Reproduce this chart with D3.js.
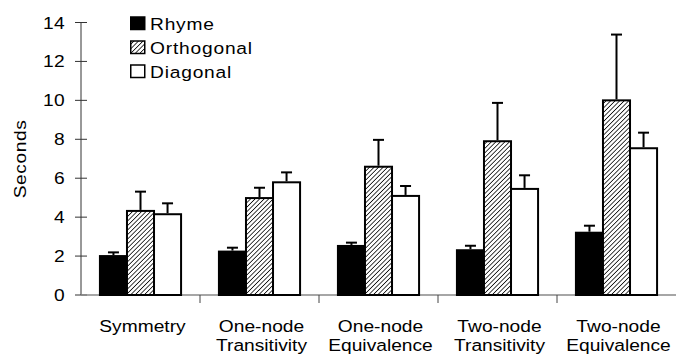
<!DOCTYPE html>
<html>
<head>
<meta charset="utf-8">
<script src="https://cdn.jsdelivr.net/npm/d3@7"></script>
<style>
  html, body { margin: 0; padding: 0; background: #fff; }
  svg { display: block; }
  text { font-family: "Liberation Sans", Arial, Helvetica, sans-serif; fill: #000; font-size: 17px; }
</style>
</head>
<body>
<svg id="chart" width="676" height="356"></svg>
<script>
const categories = [
  ["Symmetry"],
  ["One-node", "Transitivity"],
  ["One-node", "Equivalence"],
  ["Two-node", "Transitivity"],
  ["Two-node", "Equivalence"]
];
const seriesNames = ["Rhyme", "Orthogonal", "Diagonal"];
const rhymeMeans      = [2.00, 2.23, 2.52, 2.30, 3.20];
const rhymeErrTops    = [2.19, 2.43, 2.69, 2.53, 3.56];
const orthogonalMeans = [4.32, 4.98, 6.59, 7.90, 10.00];
const orthogonalErrTops = [5.31, 5.51, 7.97, 9.87, 13.38];
const diagonalMeans   = [4.15, 5.79, 5.09, 5.45, 7.54];
const diagonalErrTops = [4.71, 6.30, 5.60, 6.15, 8.34];
const yTicks = [0, 2, 4, 6, 8, 10, 12, 14];
const yLabel = "Seconds";

const means = [rhymeMeans, orthogonalMeans, diagonalMeans];
const errTops = [rhymeErrTops, orthogonalErrTops, diagonalErrTops];
const SX = 1.13;

const svg = d3.select("#chart");
const defs = svg.append("defs");
const pat = defs.append("pattern")
  .attr("id", "hatch")
  .attr("patternUnits", "userSpaceOnUse")
  .attr("width", 3.2).attr("height", 3.2)
  .attr("patternTransform", "rotate(45)");
pat.append("rect").attr("width", 3.2).attr("height", 3.2).attr("fill", "#fff");
pat.append("line").attr("x1", 0).attr("y1", 0).attr("x2", 0).attr("y2", 3.2)
  .attr("stroke", "#000").attr("stroke-width", 1.5);

const fills = ["#000", "url(#hatch)", "#fff"];

const catKeys = categories.map(c => c.join(" "));
const x0 = d3.scaleBand().domain(catKeys).range([81, 676]).paddingInner(0).paddingOuter(0);
const x1 = d3.scaleBand().domain(seriesNames).range([0, x0.bandwidth()]).paddingInner(0).paddingOuter(0.7);
const y = d3.scaleLinear().domain([0, 14]).range([295, 22.5]);

// Y axis
const yAxisG = svg.append("g").attr("transform", "translate(81,0)");
yAxisG.append("line").attr("x1", 0).attr("x2", 0).attr("y1", y(14)).attr("y2", y(0))
  .attr("stroke", "#333").attr("stroke-width", 1);
yAxisG.selectAll("line.tick").data(yTicks).join("line").attr("class", "tick")
  .attr("x1", -6).attr("x2", 6).attr("y1", d => y(d)).attr("y2", d => y(d))
  .attr("stroke", "#333").attr("stroke-width", 1);
yAxisG.selectAll("text").data(yTicks).join("text")
  .attr("transform", d => `translate(-16,${y(d) + 6}) scale(${SX},1)`)
  .attr("text-anchor", "end")
  .style("letter-spacing", "0.3px")
  .text(d => d);

// Y label
svg.append("text")
  .attr("transform", `translate(26,159) rotate(-90) scale(${SX},1)`)
  .attr("text-anchor", "middle")
  .style("letter-spacing", "0.5px")
  .text(yLabel);

// X axis line
svg.append("line").attr("x1", 81).attr("x2", 676).attr("y1", y(0)).attr("y2", y(0))
  .attr("stroke", "#888").attr("stroke-width", 1.5);
// separator ticks
const seps = catKeys.slice(1).map(k => x0(k));
svg.selectAll("line.sep").data(seps).join("line").attr("class", "sep")
  .attr("x1", d => d).attr("x2", d => d).attr("y1", y(0)).attr("y2", y(0) + 8)
  .attr("stroke", "#444").attr("stroke-width", 1);

// Bars
const groups = svg.append("g").selectAll("g").data(catKeys).join("g")
  .attr("transform", d => `translate(${x0(d)},0)`);

seriesNames.forEach((s, si) => {
  groups.append("rect")
    .attr("x", (d, i) => x1(s))
    .attr("y", (d, i) => y(means[si][i]))
    .attr("width", x1.bandwidth())
    .attr("height", (d, i) => y(0) - y(means[si][i]))
    .attr("fill", fills[si])
    .attr("stroke", "#000").attr("stroke-width", 2);
  groups.append("line")
    .attr("x1", x1(s) + x1.bandwidth() / 2).attr("x2", x1(s) + x1.bandwidth() / 2)
    .attr("y1", (d, i) => y(means[si][i]) - 1)
    .attr("y2", (d, i) => y(errTops[si][i]))
    .attr("stroke", "#000").attr("stroke-width", 2);
  groups.append("line")
    .attr("x1", x1(s) + x1.bandwidth() / 2 - 5.5).attr("x2", x1(s) + x1.bandwidth() / 2 + 5.5)
    .attr("y1", (d, i) => y(errTops[si][i]))
    .attr("y2", (d, i) => y(errTops[si][i]))
    .attr("stroke", "#000").attr("stroke-width", 2);
});

// Category labels
const catText = svg.append("g").selectAll("text").data(categories).join("text")
  .attr("text-anchor", "middle")
  .attr("transform", (d, i) => `translate(${x0(catKeys[i]) + x0.bandwidth() / 2 + 2},0) scale(${SX},1)`);
catText.each(function(d) {
  d3.select(this).selectAll("tspan").data(d).join("tspan")
    .attr("x", 0).attr("y", (t, j) => 332.5 + j * 19)
    .text(t => t);
});

// Legend
const legend = svg.append("g").selectAll("g").data(seriesNames).join("g")
  .attr("transform", (d, i) => `translate(130,${29.5 + i * 24})`);
legend.append("rect")
  .attr("x", 0.75).attr("y", -12.5).attr("width", 14).attr("height", 12.5)
  .attr("fill", (d, i) => fills[i])
  .attr("stroke", "#000").attr("stroke-width", 1.5);
legend.append("text")
  .attr("transform", `translate(20,0) scale(${SX},1)`)
  .style("letter-spacing", "0.7px")
  .text(d => d);
</script>
</body>
</html>
